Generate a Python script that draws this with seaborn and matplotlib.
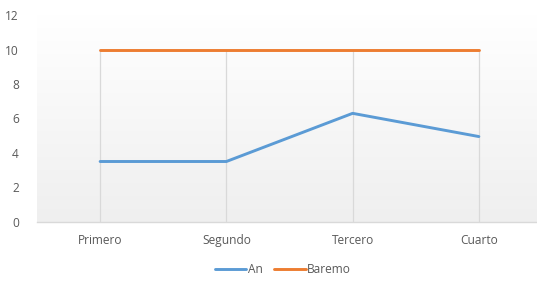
import numpy as np
import pandas as pd
import matplotlib
matplotlib.use("Agg")
import matplotlib.pyplot as plt
import seaborn as sns
from matplotlib.colors import LinearSegmentedColormap
from matplotlib.lines import Line2D

categories = ["Primero", "Segundo", "Tercero", "Cuarto"]
an_values = [3.5, 3.5, 6.3, 4.95]
baremo_values = [10, 10, 10, 10]
series_names = ["An", "Baremo"]
y_ticks = [0, 2, 4, 6, 8, 10, 12]

sns.set_theme(style="white")
plt.rcParams["font.family"] = ["Open Sans", "DejaVu Sans"]

df = pd.DataFrame({
    "cat": categories * 2,
    "x": list(range(len(categories))) * 2,
    "value": an_values + baremo_values,
    "serie": [series_names[0]] * len(categories) + [series_names[1]] * len(categories),
})

fig = plt.figure(figsize=(5.37, 2.82), dpi=100)
ax = fig.add_axes([37 / 537, 0.2138, 505 / 537, 0.732])

# gradient background
grad = np.linspace(0, 1, 256).reshape(-1, 1)
cmap = LinearSegmentedColormap.from_list("g", ["#efefef", "#ffffff"])
ax.imshow(grad, aspect="auto", cmap=cmap, origin="lower",
          extent=[0, 1, 0, 1], transform=ax.transAxes, zorder=0)

# drop lines
ax.vlines(range(len(categories)), 0, [max(a, b) for a, b in zip(an_values, baremo_values)],
          colors="#d9d9d9", linewidth=0.9, zorder=1)

palette = {"An": "#5b9bd5", "Baremo": "#ed7d31"}
sns.lineplot(data=df, x="x", y="value", hue="serie", palette=palette,
             linewidth=2.1, ax=ax, legend=False, zorder=3)

ax.set_xlim(-0.5, len(categories) - 0.5)
ax.set_ylim(0, 12)
ax.set_yticks(y_ticks)
ax.set_xticks(range(len(categories)))
ax.set_xticklabels(categories)
ax.set_xlabel("")
ax.set_ylabel("")
for s in ["top", "right", "left"]:
    ax.spines[s].set_visible(False)
ax.spines["bottom"].set_color("#d9d9d9")
ax.spines["bottom"].set_linewidth(1)
ax.tick_params(axis="y", length=0, pad=13, labelsize=8.6, labelcolor="#595959")
ax.tick_params(axis="x", length=0, pad=9, labelsize=8.6, labelcolor="#595959")
ax.grid(False)

handles = [Line2D([], [], color=palette[n], linewidth=2.1) for n in series_names]
fig.legend(handles, series_names, loc="center", bbox_to_anchor=(0.527, 0.043),
           ncol=2, frameon=False, fontsize=8.6, labelcolor="#595959",
           handlelength=2.6, handletextpad=0.1, columnspacing=1.0)

fig.savefig("out.png", dpi=100)
